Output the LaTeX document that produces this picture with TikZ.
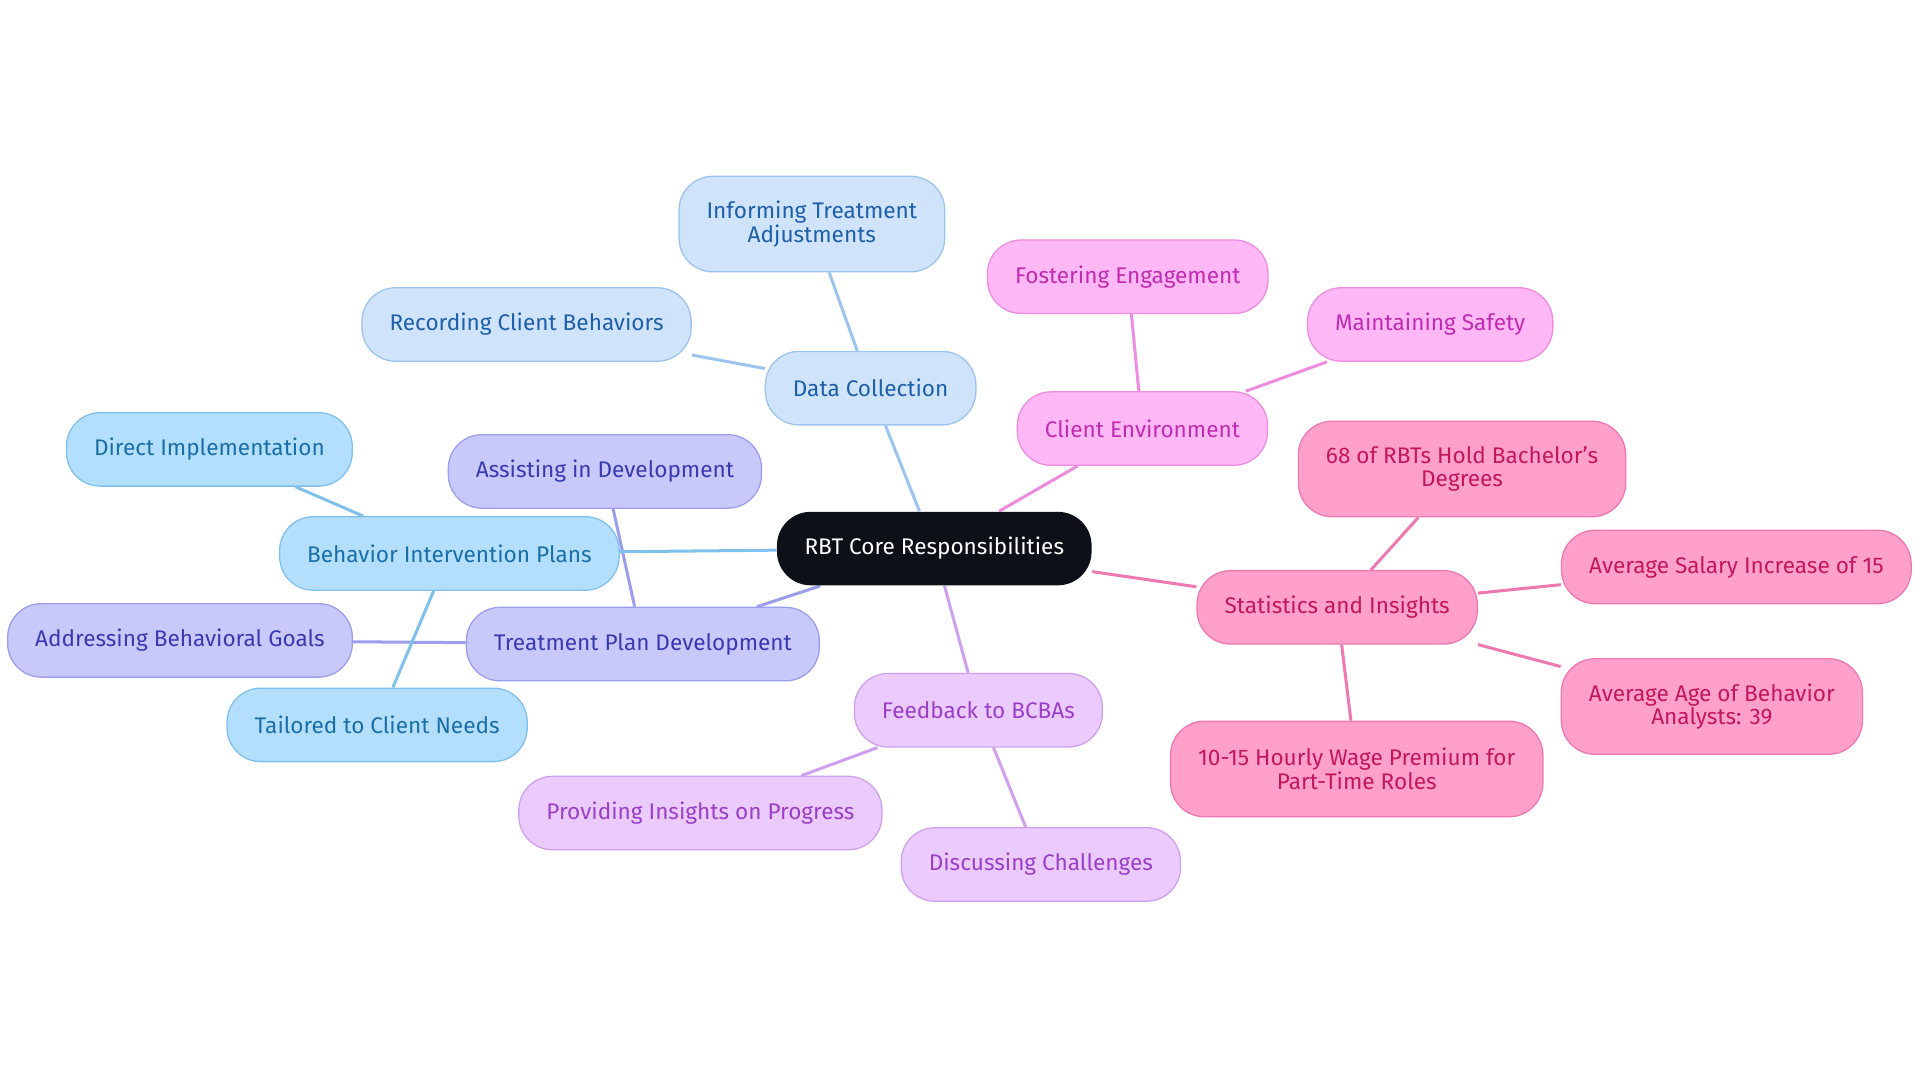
\documentclass[tikz,border=0pt]{standalone}
\usepackage{fontspec}
\setmainfont{Fira Sans}
\usetikzlibrary{backgrounds}
\definecolor{dcfill}{HTML}{CFE3FB}\definecolor{dcline}{HTML}{9CC4EE}\definecolor{dctext}{HTML}{1E5FA8}
\definecolor{cefill}{HTML}{FFB8F5}\definecolor{celine}{HTML}{EE8CE0}\definecolor{cetext}{HTML}{C02CB0}
\definecolor{sifill}{HTML}{FFA0CB}\definecolor{siline}{HTML}{EE78B0}\definecolor{sitext}{HTML}{C2185B}
\definecolor{fbfill}{HTML}{EBCBFD}\definecolor{fbline}{HTML}{CFA0EF}\definecolor{fbtext}{HTML}{9A3FC8}
\definecolor{tpfill}{HTML}{C8C8FB}\definecolor{tpline}{HTML}{9D9DED}\definecolor{tptext}{HTML}{3A3AB0}
\definecolor{bifill}{HTML}{B3DFFC}\definecolor{biline}{HTML}{80C0EC}\definecolor{bitext}{HTML}{1A6FA8}
\definecolor{rootfill}{HTML}{0D1117}
\tikzset{
  box/.style={rounded corners=0.55cm, minimum height=1.2cm, inner xsep=0.45cm, align=center, font=\fontsize{10.5}{11}\selectfont, line width=0.6pt},
  dcbox/.style={box, fill=dcfill, draw=dcline, text=dctext},
  cebox/.style={box, fill=cefill, draw=celine, text=cetext},
  sibox/.style={box, fill=sifill, draw=siline, text=sitext},
  fbbox/.style={box, fill=fbfill, draw=fbline, text=fbtext},
  tpbox/.style={box, fill=tpfill, draw=tpline, text=tptext},
  bibox/.style={box, fill=bifill, draw=biline, text=bitext},
  link/.style={line width=1.4pt}
}
\begin{document}
\begin{tikzpicture}
    \useasboundingbox (0,0) rectangle (31.36,-17.68);

    \node[box, fill=rootfill, text=white, minimum width=4.88cm] (root) at (15.26,-8.96) {RBT Core Responsibilities};

    \node[dcbox, minimum width=3.4cm] (dc) at (14.22,-6.34) {Data Collection};
    \node[dcbox, minimum width=4.16cm, minimum height=1.56cm] (ita) at (13.26,-3.66) {Informing Treatment\\Adjustments};
    \node[dcbox, minimum width=5.12cm] (rcb) at (8.60,-5.30) {Recording Client Behaviors};

    \node[cebox, minimum width=3.96cm] (ce) at (18.66,-7.00) {Client Environment};
    \node[cebox, minimum width=4.48cm] (fe) at (18.42,-4.52) {Fostering Engagement};
    \node[cebox, minimum width=3.96cm] (ms) at (23.36,-5.30) {Maintaining Safety};

    \node[sibox, minimum width=4.44cm] (si) at (21.84,-9.92) {Statistics and Insights};
    \node[sibox, minimum width=5.04cm, minimum height=1.56cm] (bach) at (23.88,-7.66) {68 of RBTs Hold Bachelor's\\Degrees};
    \node[sibox, minimum width=5.44cm] (sal) at (28.36,-9.26) {Average Salary Increase of 15};
    \node[sibox, minimum width=4.72cm, minimum height=1.56cm] (age) at (27.96,-11.54) {Average Age of Behavior\\Analysts: 39};
    \node[sibox, minimum width=5.68cm, minimum height=1.56cm] (wage) at (22.16,-12.56) {10-15 Hourly Wage Premium for\\Part-Time Roles};

    \node[fbbox, minimum width=4.04cm] (fb) at (15.98,-11.60) {Feedback to BCBAs};
    \node[fbbox, minimum width=5.52cm] (pip) at (11.44,-13.28) {Providing Insights on Progress};
    \node[fbbox, minimum width=4.40cm] (dch) at (17.00,-14.12) {Discussing Challenges};

    \node[tpbox, minimum width=5.44cm] (tpd) at (10.50,-10.52) {Treatment Plan Development};
    \node[tpbox, minimum width=4.84cm] (aid) at (9.88,-7.70) {Assisting in Development};
    \node[tpbox, minimum width=5.32cm] (abg) at (2.94,-10.46) {Addressing Behavioral Goals};

    \node[bibox, minimum width=5.16cm] (bip) at (7.34,-9.04) {Behavior Intervention Plans};
    \node[bibox, minimum width=4.44cm] (di) at (3.42,-7.34) {Direct Implementation};
    \node[bibox, minimum width=4.64cm] (tcn) at (6.16,-11.84) {Tailored to Client Needs};

    \begin{scope}[on background layer]
        \draw[link, dcline] (root) -- (dc);
        \draw[link, dcline] (dc) -- (ita);
        \draw[link, dcline] (dc) -- (rcb);
        \draw[link, celine] (root) -- (ce);
        \draw[link, celine] (ce) -- (fe);
        \draw[link, celine] (ce) -- (ms);
        \draw[link, siline] (root) -- (si);
        \draw[link, siline] (si) -- (bach);
        \draw[link, siline] (si) -- (sal);
        \draw[link, siline] (si) -- (age);
        \draw[link, siline] (si) -- (wage);
        \draw[link, fbline] (root) -- (fb);
        \draw[link, fbline] (fb) -- (pip);
        \draw[link, fbline] (fb) -- (dch);
        \draw[link, tpline] (root) -- (tpd);
        \draw[link, tpline] (tpd) -- (aid);
        \draw[link, tpline] (tpd) -- (abg);
        \draw[link, biline] (root) -- (bip);
        \draw[link, biline] (bip) -- (di);
        \draw[link, biline] (bip) -- (tcn);
    \end{scope}
\end{tikzpicture}
\end{document}
